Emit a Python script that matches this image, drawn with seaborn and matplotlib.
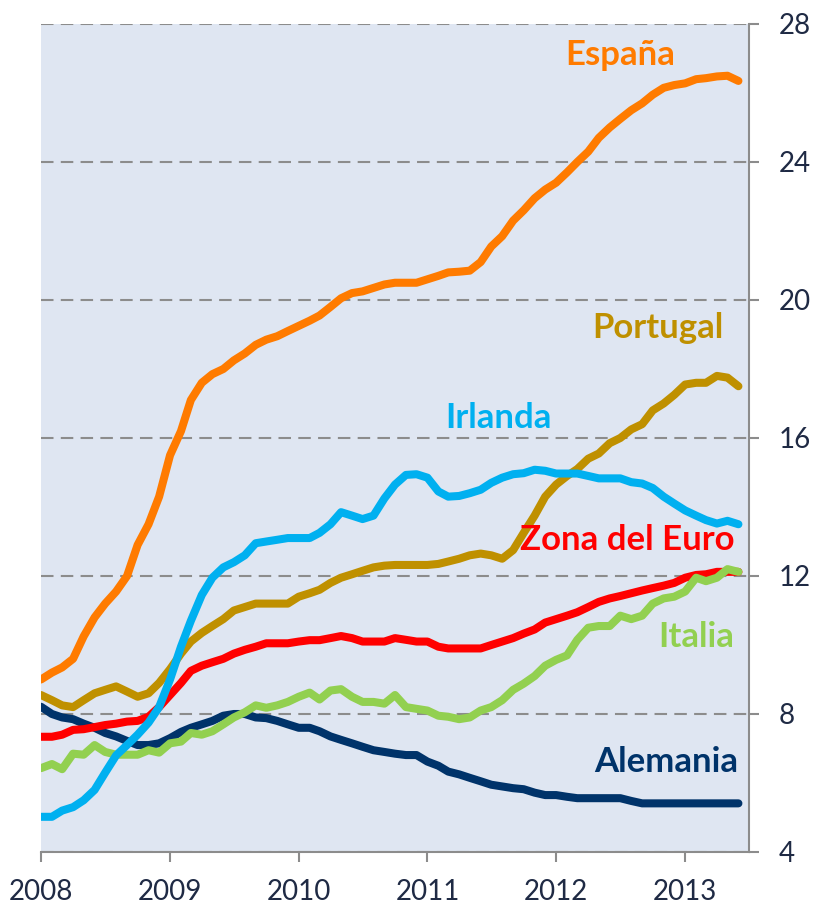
import pandas as pd
import matplotlib.pyplot as plt
import matplotlib.dates as mdates
import seaborn as sns

# Tasa de desempleo mensual, ene-2008 a jun-2013
meses = pd.date_range('2008-01-01', periods=66, freq='MS')

espana = [9.0, 9.2, 9.35, 9.6, 10.25, 10.8, 11.2, 11.55, 12.0, 12.9, 13.5, 14.3,
          15.5, 16.2, 17.1, 17.6, 17.85, 18.0, 18.25, 18.45, 18.7, 18.85, 18.95, 19.1,
          19.25, 19.4, 19.55, 19.8, 20.05, 20.2, 20.25, 20.35, 20.45, 20.5, 20.5, 20.5,
          20.6, 20.7, 20.8, 20.82, 20.85, 21.1, 21.55, 21.85, 22.3, 22.6, 22.95, 23.2,
          23.4, 23.7, 24.0, 24.3, 24.7, 25.0, 25.25, 25.5, 25.7, 25.95, 26.15, 26.23,
          26.28, 26.4, 26.43, 26.48, 26.5, 26.35]
portugal = [8.55, 8.4, 8.25, 8.2, 8.4, 8.6, 8.7, 8.8, 8.65, 8.5, 8.6, 8.9,
            9.3, 9.75, 10.1, 10.35, 10.55, 10.75, 11.0, 11.1, 11.2, 11.2, 11.2, 11.2,
            11.4, 11.5, 11.6, 11.8, 11.95, 12.05, 12.15, 12.25, 12.3, 12.32, 12.32, 12.32,
            12.32, 12.35, 12.42, 12.5, 12.6, 12.65, 12.6, 12.5, 12.75, 13.25, 13.75, 14.3,
            14.65, 14.9, 15.1, 15.4, 15.55, 15.85, 16.0, 16.25, 16.4, 16.8, 17.0, 17.25,
            17.55, 17.6, 17.6, 17.8, 17.75, 17.5]
irlanda = [5.02, 5.02, 5.2, 5.3, 5.5, 5.8, 6.3, 6.8, 7.1, 7.4, 7.75, 8.2,
           9.0, 9.95, 10.7, 11.45, 11.95, 12.25, 12.4, 12.6, 12.95, 13.0, 13.05, 13.1,
           13.1, 13.1, 13.25, 13.5, 13.85, 13.75, 13.65, 13.75, 14.25, 14.65, 14.93, 14.95,
           14.85, 14.45, 14.3, 14.32, 14.4, 14.5, 14.7, 14.85, 14.95, 14.98, 15.08, 15.05,
           14.97, 14.97, 14.97, 14.9, 14.83, 14.83, 14.83, 14.72, 14.68, 14.55, 14.3, 14.1,
           13.9, 13.75, 13.62, 13.52, 13.6, 13.5]
zona_euro = [7.34, 7.34, 7.4, 7.54, 7.56, 7.62, 7.68, 7.72, 7.78, 7.8, 7.92, 8.2,
             8.55, 8.9, 9.25, 9.4, 9.5, 9.6, 9.75, 9.86, 9.95, 10.05, 10.05, 10.05,
             10.1, 10.14, 10.14, 10.2, 10.26, 10.2, 10.1, 10.1, 10.1, 10.2, 10.15, 10.1,
             10.1, 9.95, 9.9, 9.9, 9.9, 9.9, 10.0, 10.1, 10.2, 10.33, 10.45, 10.65,
             10.75, 10.85, 10.95, 11.1, 11.25, 11.35, 11.42, 11.5, 11.58, 11.65, 11.72, 11.8,
             11.95, 12.03, 12.05, 12.12, 12.12, 12.12]
italia = [6.43, 6.55, 6.4, 6.85, 6.82, 7.1, 6.9, 6.82, 6.82, 6.82, 6.95, 6.88,
          7.15, 7.2, 7.45, 7.4, 7.5, 7.7, 7.9, 8.05, 8.25, 8.18, 8.25, 8.35,
          8.5, 8.62, 8.42, 8.68, 8.72, 8.5, 8.35, 8.35, 8.3, 8.55, 8.2, 8.15,
          8.1, 7.95, 7.92, 7.85, 7.9, 8.1, 8.2, 8.4, 8.7, 8.88, 9.1, 9.4,
          9.57, 9.7, 10.15, 10.5, 10.55, 10.55, 10.85, 10.75, 10.85, 11.2, 11.35, 11.4,
          11.55, 11.95, 11.85, 11.95, 12.2, 12.12]
alemania = [8.21, 8.0, 7.9, 7.85, 7.72, 7.6, 7.45, 7.35, 7.22, 7.1, 7.1, 7.15,
            7.3, 7.48, 7.6, 7.7, 7.8, 7.95, 8.0, 8.0, 7.9, 7.88, 7.8, 7.7,
            7.6, 7.6, 7.5, 7.35, 7.25, 7.15, 7.05, 6.95, 6.9, 6.85, 6.81, 6.81,
            6.62, 6.5, 6.33, 6.25, 6.15, 6.05, 5.95, 5.9, 5.85, 5.82, 5.72, 5.65,
            5.65, 5.6, 5.56, 5.56, 5.56, 5.56, 5.56, 5.48, 5.41, 5.41, 5.41, 5.41,
            5.41, 5.41, 5.41, 5.41, 5.41, 5.41]

paises = ['Alemania', 'Zona del Euro', 'Italia', 'Portugal', 'Irlanda', 'España']
colores = {'España': '#FF7B00', 'Portugal': '#BF9000', 'Irlanda': '#00B0F0',
           'Zona del Euro': '#FF0000', 'Italia': '#92D050', 'Alemania': '#00336A'}

series = {'España': espana, 'Portugal': portugal, 'Irlanda': irlanda,
          'Zona del Euro': zona_euro, 'Italia': italia, 'Alemania': alemania}
df = pd.concat([pd.DataFrame({'fecha': meses, 'tasa': v, 'pais': k})
                for k, v in series.items()], ignore_index=True)

plt.rcParams['font.family'] = ['Lato', 'DejaVu Sans']

fig = plt.figure(figsize=(8.15, 9.08), dpi=100)
ax = fig.add_axes([41 / 815, 56 / 908, 708 / 815, 828 / 908])
ax.set_facecolor('#DFE6F2')

sns.lineplot(data=df, x='fecha', y='tasa', hue='pais', hue_order=paises,
             palette=colores, linewidth=5.8, legend=False, ax=ax,
             solid_capstyle='round', solid_joinstyle='round')

# Ejes
ax.set_xlim(pd.Timestamp('2008-01-01'), pd.Timestamp('2013-07-01'))
ax.set_ylim(4, 28)
ax.set_yticks(range(4, 29, 4))
ax.xaxis.set_major_locator(mdates.YearLocator())
ax.xaxis.set_major_formatter(mdates.DateFormatter('%Y'))
ax.yaxis.tick_right()
ax.set_xlabel('')
ax.set_ylabel('')

gris = '#8C8C8C'
texto = '#1F2A44'
ax.tick_params(axis='both', colors=gris, labelcolor=texto, labelsize=20,
               length=7.5, width=1.5, direction='out')
ax.tick_params(axis='x', pad=12)
ax.tick_params(axis='y', pad=14)
for lado in ['left', 'top']:
    ax.spines[lado].set_visible(False)
for lado in ['right', 'bottom']:
    ax.spines[lado].set_color(gris)
    ax.spines[lado].set_linewidth(1.5)

ax.yaxis.grid(True, color=gris, linestyle=(0, (6, 3.5)), linewidth=1.5)
ax.xaxis.grid(False)
ax.set_axisbelow(True)

# Etiquetas de las series
etiquetas = [('España', '2012-07-01', 26.81), ('Portugal', '2012-10-15', 18.89),
             ('Irlanda', '2011-07-20', 16.30), ('Zona del Euro', '2012-07-20', 12.75),
             ('Italia', '2013-02-01', 9.95), ('Alemania', '2012-11-07', 6.33)]
for nombre, fecha, y in etiquetas:
    ax.text(pd.Timestamp(fecha), y, nombre, color=colores[nombre], fontsize=25,
            fontweight='bold', ha='center', va='baseline')

plt.savefig('out.png', dpi=100)
